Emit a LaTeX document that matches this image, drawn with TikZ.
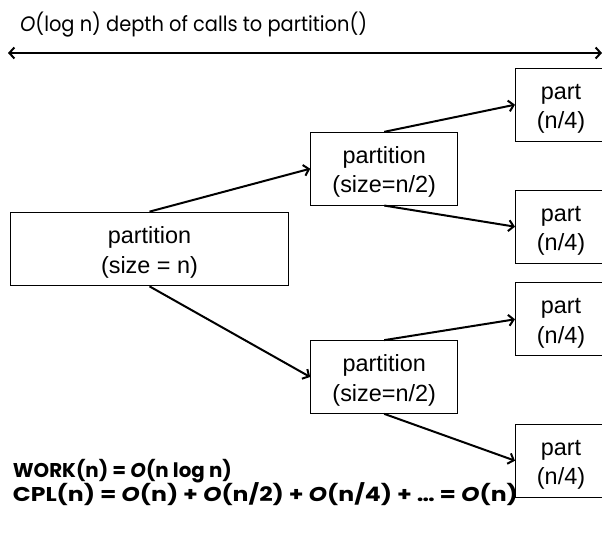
\documentclass[tikz,border=0pt]{standalone}
\usepackage{fontspec}
\setmainfont{Liberation Sans}
\newfontfamily\handfont{Poppins}
\usetikzlibrary{arrows.meta}

% strut that sets the first text line a little lower in each box
\newcommand{\boxstrut}{\rule{0pt}{23.5bp}}

\begin{document}
\begin{tikzpicture}[x=1bp,y=-1bp,
  box/.style={draw, line width=1bp, inner sep=0pt, align=center,
    font=\fontsize{23.5}{30}\selectfont},
  bigbox/.style={box, minimum width=277.6bp, minimum height=73.7bp},
  midbox/.style={box, minimum width=147bp, minimum height=72.7bp},
  partbox/.style={box, minimum width=91bp, minimum height=73bp},
  barb/.tip={Straight Barb[length=5bp,width=11bp,line width=2bp]},
  link/.style={line width=2bp, -barb},
  note/.style={anchor=base west, inner sep=0pt},
]
  \useasboundingbox (0,0) rectangle (602,534);
  \clip (0,0) rectangle (602,534);

  % heading and the depth arrow under it
  \node[note] (title) at (20,32)
    {\resizebox{347bp}{\height}{\handfont\fontsize{21}{24}\selectfont
      \textit{O}(log n) depth of calls to partition()}};
  \coordinate (depthL) at (8,53);
  \coordinate (depthR) at (602,53);
  \draw[line width=2.5bp, barb-barb] (depthL) -- (depthR);

  % recursion tree of partition() calls
  \node[bigbox] (root) at (149.5,249) {\boxstrut partition\\(size = n)};
  \node[midbox] (upper) at (384.2,168.7) {\boxstrut partition\\(size=n/2)};
  \node[midbox] (lower) at (384.2,377) {\boxstrut partition\\(size=n/2)};
  \node[partbox] (p1) at (561,104.7) {\boxstrut part\\(n/4)};
  \node[partbox] (p2) at (561,226.7) {\boxstrut part\\(n/4)};
  \node[partbox] (p3) at (561,319.3) {\boxstrut part\\(n/4)};
  \node[partbox] (p4) at (561,460.7) {\boxstrut part\\(n/4)};

  \draw[link] (root.north) -- (upper.west);
  \draw[link] (root.south) -- (lower.west);
  \draw[link] (upper.north) -- (p1.west);
  \draw[link] (upper.south) -- (p2.west);
  \draw[link] (lower.north) -- (p3.west);
  \draw[link] (lower.south) -- (p4.west);

  % cost summary
  \node[note] (work) at (12.7,477.7)
    {\resizebox{219bp}{\height}{\handfont\bfseries\fontsize{20}{24}\selectfont
      WORK(n) = \textit{O}(n log n)}};
  \node[note] (cpl) at (12.7,501)
    {\resizebox{505bp}{\height}{\handfont\bfseries\fontsize{20}{24}\selectfont
      CPL(n) = \textit{O}(n) + \textit{O}(n/2) + \textit{O}(n/4) + … = \textit{O}(n)}};
\end{tikzpicture}
\end{document}
